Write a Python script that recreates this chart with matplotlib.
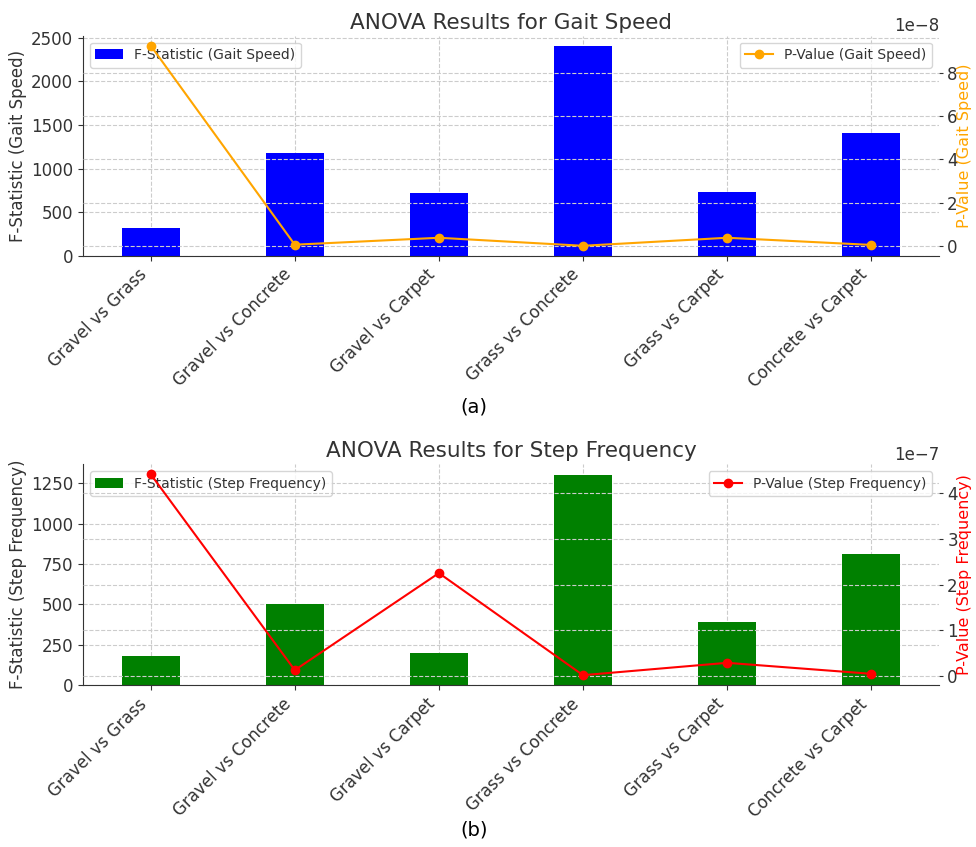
import matplotlib
matplotlib.use('Agg')
import matplotlib.pyplot as plt
from matplotlib.ticker import MultipleLocator
import numpy as np

comparisons = ['Gravel vs Grass', 'Gravel vs Concrete', 'Gravel vs Carpet',
               'Grass vs Concrete', 'Grass vs Carpet', 'Concrete vs Carpet']

f_gait = [323, 1175, 724, 2404, 727, 1412]
p_gait = [9.26e-8, 0.06e-8, 0.38e-8, 0.01e-8, 0.38e-8, 0.05e-8]

f_step = [179, 505, 200, 1302, 394, 813]
p_step = [4.41e-7, 0.13e-7, 2.25e-7, 0.02e-7, 0.29e-7, 0.05e-7]

plt.rcParams['text.color'] = '#333333'
plt.rcParams['axes.labelcolor'] = '#333333'
plt.rcParams['xtick.color'] = '#333333'
plt.rcParams['ytick.color'] = '#333333'
plt.rcParams['font.size'] = 12

AX_LEFT, AX_W = 0.085, 0.877
FIG_W = 976


def panel(ax, fvals, pvals, bar_color, line_color, name, title, step):
    x = np.arange(len(comparisons))
    ax.bar(x, fvals, width=0.4, color=bar_color, label=f'F-Statistic ({name})')
    ax.set_ylabel(f'F-Statistic ({name})', fontsize=12, labelpad=3)
    ax.set_title(title, fontsize=15.5, pad=5)
    ax.set_xticks(x)
    ax.set_xticklabels(comparisons, rotation=45, ha='right', fontsize=12)
    ax.yaxis.set_major_locator(MultipleLocator(step))
    ax.tick_params(axis='y', labelsize=12)
    ax.grid(True, linestyle='--', color='#cccccc', linewidth=0.8)
    ax.set_axisbelow(True)
    for s in ['top', 'right']:
        ax.spines[s].set_visible(False)
    for s in ['left', 'bottom']:
        ax.spines[s].set_color('#333333')
    ax.legend(loc='upper left', fontsize=10)

    ax2 = ax.twinx()
    ax2.plot(x, pvals, color=line_color, marker='o', markersize=6, linewidth=1.5,
             label=f'P-Value ({name})')
    ax2.set_ylabel(f'P-Value ({name})', color=line_color, fontsize=11.5)
    # place right label close to the edge like the reference
    lx = (957 / FIG_W - AX_LEFT) / AX_W
    ax2.yaxis.set_label_coords(lx, 0.5)
    ax2.grid(True, linestyle='--', color='#cccccc', linewidth=0.8)
    ax2.tick_params(axis='y', labelsize=12, pad=3, length=3)
    for s in ['top', 'right', 'left', 'bottom']:
        ax2.spines[s].set_visible(False)
    ax2.legend(loc='upper right', fontsize=10)
    return ax2


fig = plt.figure(figsize=(9.76, 8.47), dpi=100)
ax1 = fig.add_axes([AX_LEFT, 0.698, AX_W, 0.260])
ax3 = fig.add_axes([AX_LEFT, 0.191, AX_W, 0.261])

panel(ax1, f_gait, p_gait, 'blue', 'orange', 'Gait Speed', 'ANOVA Results for Gait Speed', 500)
panel(ax3, f_step, p_step, 'green', 'red', 'Step Frequency', 'ANOVA Results for Step Frequency', 250)

fig.text(0.486, 1 - 407 / 847, '(a)', ha='center', va='center', fontsize=14, color='black')
fig.text(0.486, 1 - 830 / 847, '(b)', ha='center', va='center', fontsize=14, color='black')

fig.savefig('out.png', dpi=100)
